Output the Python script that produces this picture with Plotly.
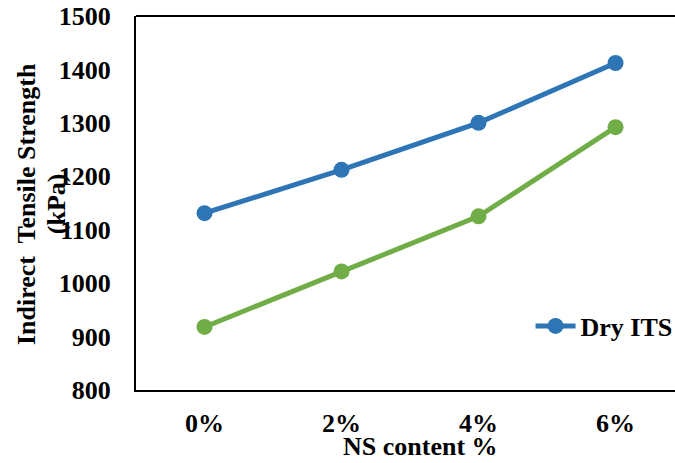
import plotly.graph_objects as go

categories = ["0%", "2%", "4%", "6%"]
dry_its = [1131, 1212, 1300, 1412]
wet_its = [918, 1022, 1125, 1292]
y_ticks = [800, 900, 1000, 1100, 1200, 1300, 1400, 1500]

FONT = "Liberation Serif"
BLUE = "#2E75B6"
GREEN = "#70AD47"
BOLD = dict(family=FONT, size=26, color="black", weight="bold")

fig = go.Figure()
fig.add_trace(go.Scatter(
    x=categories, y=wet_its, name="Wet ITS", mode="lines+markers",
    line=dict(color=GREEN, width=5), marker=dict(size=16, color=GREEN),
    showlegend=False,
))
fig.add_trace(go.Scatter(
    x=categories, y=dry_its, name="Dry ITS", mode="lines+markers",
    line=dict(color=BLUE, width=5), marker=dict(size=16, color=BLUE),
))

fig.update_layout(
    width=675, height=463,
    margin=dict(l=136, r=0, t=16, b=73, autoexpand=False),
    paper_bgcolor="white", plot_bgcolor="white",
    font=BOLD,
    showlegend=True,
    legend=dict(x=0.732, y=0.171, xanchor="left", yanchor="middle",
                bgcolor="rgba(0,0,0,0)", font=BOLD, itemwidth=40),
    xaxis=dict(
        type="category", categoryorder="array", categoryarray=categories,
        range=[-0.5, 3.434], showgrid=False, zeroline=False,
        showline=True, linecolor="black", linewidth=2, mirror=False,
        ticks="", ticklabelstandoff=9, automargin=False,
        ticklabeloverflow="allow", tickfont=BOLD,
    ),
    yaxis=dict(
        range=[800, 1500], tickvals=y_ticks, showgrid=False, zeroline=False,
        showline=True, linecolor="black", linewidth=2, mirror=False,
        ticks="", ticklabelstandoff=18, automargin=False,
        ticklabeloverflow="allow", tickfont=BOLD,
    ),
    shapes=[
        # top border of the plot frame
        dict(type="line", xref="paper", yref="paper", x0=0, x1=1, y0=1, y1=1,
             line=dict(color="black", width=2)),
    ],
    annotations=[
        dict(text="NS content %", x=0.527, y=-0.152, xref="paper", yref="paper",
             showarrow=False, xanchor="center", yanchor="middle", font=BOLD),
        dict(text="Indirect  Tensile Strength", x=-0.2041, y=0.497,
             xref="paper", yref="paper", textangle=-90, showarrow=False,
             xanchor="center", yanchor="middle", font=BOLD),
        dict(text="(kPa)", x=-0.1484, y=0.497,
             xref="paper", yref="paper", textangle=-90, showarrow=False,
             xanchor="center", yanchor="middle", font=BOLD),
    ],
)

# remove the default page margin so the figure fills the window exactly
fig.write_html(
    "out.html",
    config={"responsive": False, "displayModeBar": False},
    post_script="document.body.style.margin='0';document.documentElement.style.overflow='hidden';",
)
